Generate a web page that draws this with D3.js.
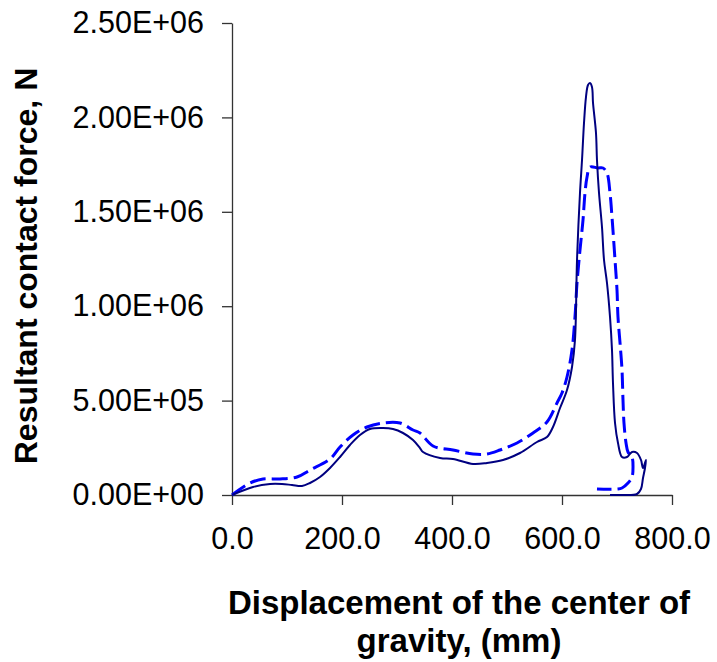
<!DOCTYPE html>
<html>
<head>
<meta charset="utf-8">
<script src="https://cdn.jsdelivr.net/npm/d3@7/dist/d3.min.js"></script>
<style>
  html, body { margin: 0; padding: 0; background: #fff; }
  svg { display: block; font-family: "Liberation Sans", Arial, sans-serif; }
</style>
</head>
<body>
<svg id="chart" width="717" height="662"></svg>
<script>
// Displacement (mm) and resultant contact force (N), series 1 (solid, navy)
const solidX = [0, 38.2, 69.1, 90.9, 109.1, 127.3, 141.8, 160, 178.2, 196.4, 214.5, 232.7, 250.9, 274.5, 292.7, 310.9, 329.1, 341.8, 347.3, 378.2, 401.8, 438.2, 463.6, 492.7, 523.6, 554.5, 572.7, 583.6, 596.4, 609.1, 618.2, 623.6, 627.3, 632.7, 636.4, 640, 643.6, 647.3, 650.9, 654.5, 656.4, 661.8, 663.6, 667.3, 672.7, 676.4, 681.8, 687.3, 690.9, 692.7, 696.4, 701.8, 709.1, 718.2, 727.3, 736.4, 743.6, 747.3, 752.7, 750.9, 747.3, 743.6, 736.4, 705.5, 687.3];
const solidY = [0, 42400, 58300, 58300, 53000, 47700, 63600, 95300, 143000, 201300, 264800, 317800, 349600, 354900, 349600, 328400, 291300, 248900, 227800, 196000, 190700, 164200, 169500, 185400, 222500, 280700, 307200, 360200, 460800, 556100, 678000, 821000, 1244700, 1599600, 1774400, 1970300, 2108000, 2171600, 2182200, 2161000, 2076300, 1917400, 1774400, 1599600, 1419500, 1244700, 1122900, 942800, 768000, 593200, 381400, 275400, 201300, 201300, 227800, 222500, 185400, 143000, 185400, 143000, 90000, 31800, 5300, 0, 0];

// Series 2 (dashed, blue)
const dashX = [0, 32.7, 56.4, 87.3, 118.2, 141.8, 178.2, 196.4, 220, 245.5, 274.5, 305.5, 329.1, 341.8, 365.5, 401.8, 438.2, 463.6, 487.3, 518.2, 547.3, 572.7, 590.9, 600, 609.1, 618.2, 623.6, 627.3, 632.7, 638.2, 641.8, 645.5, 650.9, 665.5, 674.5, 681.8, 687.3, 690.9, 696.4, 700, 701.8, 705.5, 709.1, 710.9, 712.7, 716.4, 720, 727.3, 729.1, 727.3, 720, 709.1, 700, 663.6];
const dashY = [0, 63600, 84700, 84700, 95300, 132400, 190700, 254200, 317800, 360200, 381400, 381400, 344300, 328400, 259500, 238300, 217200, 217200, 238300, 275400, 328400, 386700, 487300, 540300, 625000, 768000, 942800, 1122900, 1297700, 1456600, 1599600, 1684300, 1737300, 1732000, 1732000, 1705500, 1599600, 1472500, 1244700, 1085800, 942800, 805100, 662100, 503200, 381400, 275400, 227800, 201300, 148300, 95300, 63600, 37100, 31800, 31800];

const xTicks = [0, 200, 400, 600, 800];
const yTicks = [0, 500000, 1000000, 1500000, 2000000, 2500000];
const xTitleLines = ["Displacement of the center of", "gravity, (mm)"];
const yTitle = "Resultant contact force, N";

const svg = d3.select("#chart");
const plotLeft = 232, plotRight = 672, plotTop = 23, plotBottom = 495;

const x = d3.scaleLinear().domain([0, 800]).range([plotLeft, plotRight]);
const y = d3.scaleLinear().domain([0, 2500000]).range([plotBottom, plotTop]);

function sci(v) {
  if (v === 0) return "0.00E+00";
  const e = Math.floor(Math.log10(Math.abs(v)));
  const m = v / Math.pow(10, e);
  const es = (e < 0 ? "-" : "+") + String(Math.abs(e)).padStart(2, "0");
  return m.toFixed(2) + "E" + es;
}

const axisColor = "#333";
const tickFont = "30.5px";

// Y axis
const yAxis = svg.append("g").attr("transform", `translate(${plotLeft},0)`)
  .call(d3.axisLeft(y).tickValues(yTicks).tickFormat(sci).tickSize(10).tickPadding(18).tickSizeOuter(0));
yAxis.select(".domain").attr("stroke", axisColor).attr("stroke-width", 1.3);
yAxis.selectAll(".tick line").attr("stroke", axisColor).attr("stroke-width", 1.3);
yAxis.selectAll(".tick text").attr("fill", "#000").style("font-size", tickFont)
  .style("font-family", "'Liberation Sans', Arial, sans-serif");

// X axis
const xAxis = svg.append("g").attr("transform", `translate(0,${plotBottom})`)
  .call(d3.axisBottom(x).tickValues(xTicks).tickFormat(d3.format(".1f")).tickSize(10).tickPadding(22).tickSizeOuter(0));
xAxis.select(".domain").attr("stroke", axisColor).attr("stroke-width", 1.3);
xAxis.selectAll(".tick line").attr("stroke", axisColor).attr("stroke-width", 1.3);
xAxis.selectAll(".tick text").attr("fill", "#000").style("font-size", tickFont)
  .style("font-family", "'Liberation Sans', Arial, sans-serif");

// Lines
const solidData = solidX.map((d, i) => [d, solidY[i]]);
const dashData = dashX.map((d, i) => [d, dashY[i]]);
const line = d3.line().x(d => x(d[0])).y(d => y(d[1])).curve(d3.curveCatmullRom.alpha(0.5));

svg.append("path").datum(dashData).attr("d", line)
  .attr("fill", "none").attr("stroke", "#0000FF").attr("stroke-width", 3)
  .attr("stroke-dasharray", "16,6");

svg.append("path").datum(solidData).attr("d", line)
  .attr("fill", "none").attr("stroke", "#000080").attr("stroke-width", 2);

// Titles
const xt = svg.append("text").attr("text-anchor", "middle")
  .style("font-weight", "bold").style("font-size", "33px");
xTitleLines.forEach((t, i) => {
  xt.append("tspan").attr("x", 459).attr("y", 614 + i * 38).text(t);
});

svg.append("text").attr("transform", "translate(37,266) rotate(-90)")
  .attr("text-anchor", "middle").style("font-weight", "bold").style("font-size", "32px")
  .text(yTitle);
</script>
</body>
</html>
